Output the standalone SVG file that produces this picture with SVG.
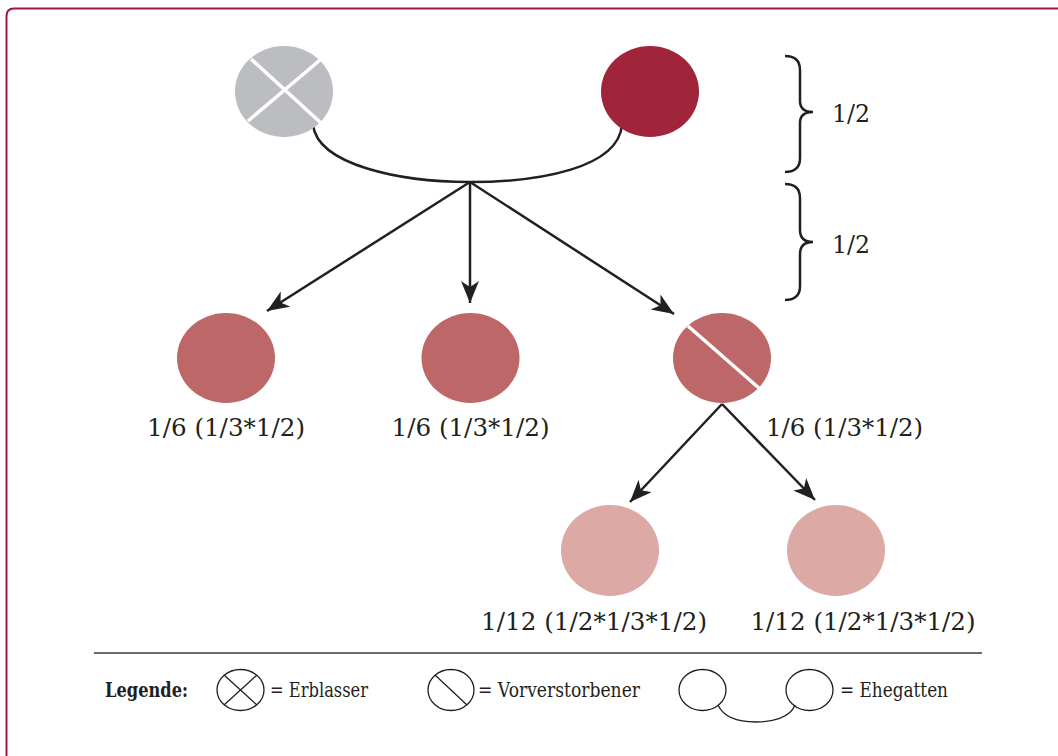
<svg xmlns="http://www.w3.org/2000/svg" width="1058" height="756" viewBox="0 0 1058 756">
  <style>
    .lbl { font-family: "DejaVu Serif", "Liberation Serif", serif; font-size: 24px; fill: #231f20; }
    .leg { font-family: "DejaVu Serif", "Liberation Serif", serif; font-size: 20px; fill: #231f20; }
    .edge { fill: none; stroke: #231f20; stroke-width: 2.5; }
    .cut { stroke: #ffffff; stroke-width: 3.5; }
    .sym { fill: none; stroke: #231f20; stroke-width: 1.3; }
  </style>
  <defs>
    <marker id="arrow" markerUnits="userSpaceOnUse" markerWidth="24" markerHeight="20" refX="22" refY="9" orient="auto">
      <path d="M0,0 L22,9 L0,18 L6,9 z" fill="#231f20"/>
    </marker>
  </defs>

  <rect width="1058" height="756" fill="#ffffff"/>
  <!-- frame -->
  <path d="M6.5 756 V16 Q6.5 8.5 14 8.5 H1058" fill="none" stroke="#a8123f" stroke-width="2"/>

  <!-- connectors -->
  <g id="connectors">
    <path class="edge" d="M313 125 C318 165 400 182 470 182 C540 182 618 168 622 125"/>
    <line class="edge" x1="470" y1="182" x2="267" y2="311" marker-end="url(#arrow)"/>
    <line class="edge" x1="470" y1="182" x2="470" y2="303" marker-end="url(#arrow)"/>
    <line class="edge" x1="470" y1="182" x2="674" y2="314" marker-end="url(#arrow)"/>
    <line class="edge" x1="722" y1="404" x2="630" y2="502" marker-end="url(#arrow)"/>
    <line class="edge" x1="722" y1="404" x2="815" y2="500" marker-end="url(#arrow)"/>
  </g>

  <!-- deceased testator -->
  <g id="erblasser">
    <ellipse cx="284" cy="91.5" rx="49" ry="45.5" fill="#bcbdc0"/>
    <line class="cut" x1="251" y1="59" x2="321" y2="123"/>
    <line class="cut" x1="320" y1="60" x2="248" y2="121"/>
  </g>

  <!-- spouse -->
  <g id="ehegatte">
    <ellipse cx="650" cy="91.5" rx="49" ry="45.5" fill="#a0253b"/>
  </g>

  <!-- share brackets -->
  <g id="anteil-oben">
    <path class="edge" stroke-width="2" d="M785 56 Q800 56 800 70 V101 Q800 112 813 112 Q800 112 800 123 V158 Q800 172 785 172"/>
    <text class="lbl" x="832" y="122" textLength="38" lengthAdjust="spacingAndGlyphs">1/2</text>
  </g>
  <g id="anteil-unten">
    <path class="edge" stroke-width="2" d="M785 184 Q800 184 800 198 V230 Q800 242 813 242 Q800 242 800 254 V286 Q800 300 785 300"/>
    <text class="lbl" x="832" y="253" textLength="38" lengthAdjust="spacingAndGlyphs">1/2</text>
  </g>

  <!-- children -->
  <g id="kind1">
    <ellipse cx="226" cy="358" rx="49" ry="45" fill="#bd6769"/>
    <text class="lbl" x="226" y="436" text-anchor="middle" textLength="158" lengthAdjust="spacingAndGlyphs">1/6 (1/3*1/2)</text>
  </g>
  <g id="kind2">
    <ellipse cx="470.5" cy="358" rx="49" ry="45" fill="#bd6769"/>
    <text class="lbl" x="470.5" y="436" text-anchor="middle" textLength="158" lengthAdjust="spacingAndGlyphs">1/6 (1/3*1/2)</text>
  </g>
  <g id="kind3">
    <ellipse cx="722" cy="358" rx="49" ry="45" fill="#bd6769"/>
    <line class="cut" x1="688" y1="326" x2="760" y2="389"/>
    <text class="lbl" x="766" y="436" textLength="157" lengthAdjust="spacingAndGlyphs">1/6 (1/3*1/2)</text>
  </g>

  <!-- grandchildren -->
  <g id="enkel1">
    <ellipse cx="610" cy="550.5" rx="49" ry="45.5" fill="#dca9a5"/>
    <text class="lbl" x="594" y="630" text-anchor="middle" textLength="226" lengthAdjust="spacingAndGlyphs">1/12 (1/2*1/3*1/2)</text>
  </g>
  <g id="enkel2">
    <ellipse cx="836" cy="550.5" rx="49" ry="45.5" fill="#dca9a5"/>
    <text class="lbl" x="863" y="630" text-anchor="middle" textLength="225" lengthAdjust="spacingAndGlyphs">1/12 (1/2*1/3*1/2)</text>
  </g>

  <!-- legend -->
  <g id="legende">
    <line x1="94" y1="653" x2="982" y2="653" stroke="#3a3a3a" stroke-width="1.5"/>
    <text class="leg" x="105" y="697" font-weight="bold" textLength="83" lengthAdjust="spacingAndGlyphs">Legende:</text>
    <ellipse class="sym" cx="240.5" cy="690" rx="23.5" ry="20.5"/>
    <line class="sym" x1="224" y1="675" x2="257" y2="705"/>
    <line class="sym" x1="257" y1="675" x2="224" y2="705"/>
    <text class="leg" x="270" y="697" textLength="98" lengthAdjust="spacingAndGlyphs">= Erblasser</text>
    <ellipse class="sym" cx="451" cy="690" rx="23" ry="20.5"/>
    <line class="sym" x1="435" y1="675" x2="467" y2="705"/>
    <text class="leg" x="478" y="697" textLength="162" lengthAdjust="spacingAndGlyphs">= Vorverstorbener</text>
    <ellipse class="sym" cx="702.5" cy="690" rx="23.5" ry="20.5"/>
    <ellipse class="sym" cx="809.5" cy="690" rx="23.5" ry="20.5"/>
    <path class="sym" d="M718 705 C724 718 740 722 756 722 C772 722 790 718 795 705"/>
    <text class="leg" x="840" y="697" textLength="108" lengthAdjust="spacingAndGlyphs">= Ehegatten</text>
  </g>
</svg>
